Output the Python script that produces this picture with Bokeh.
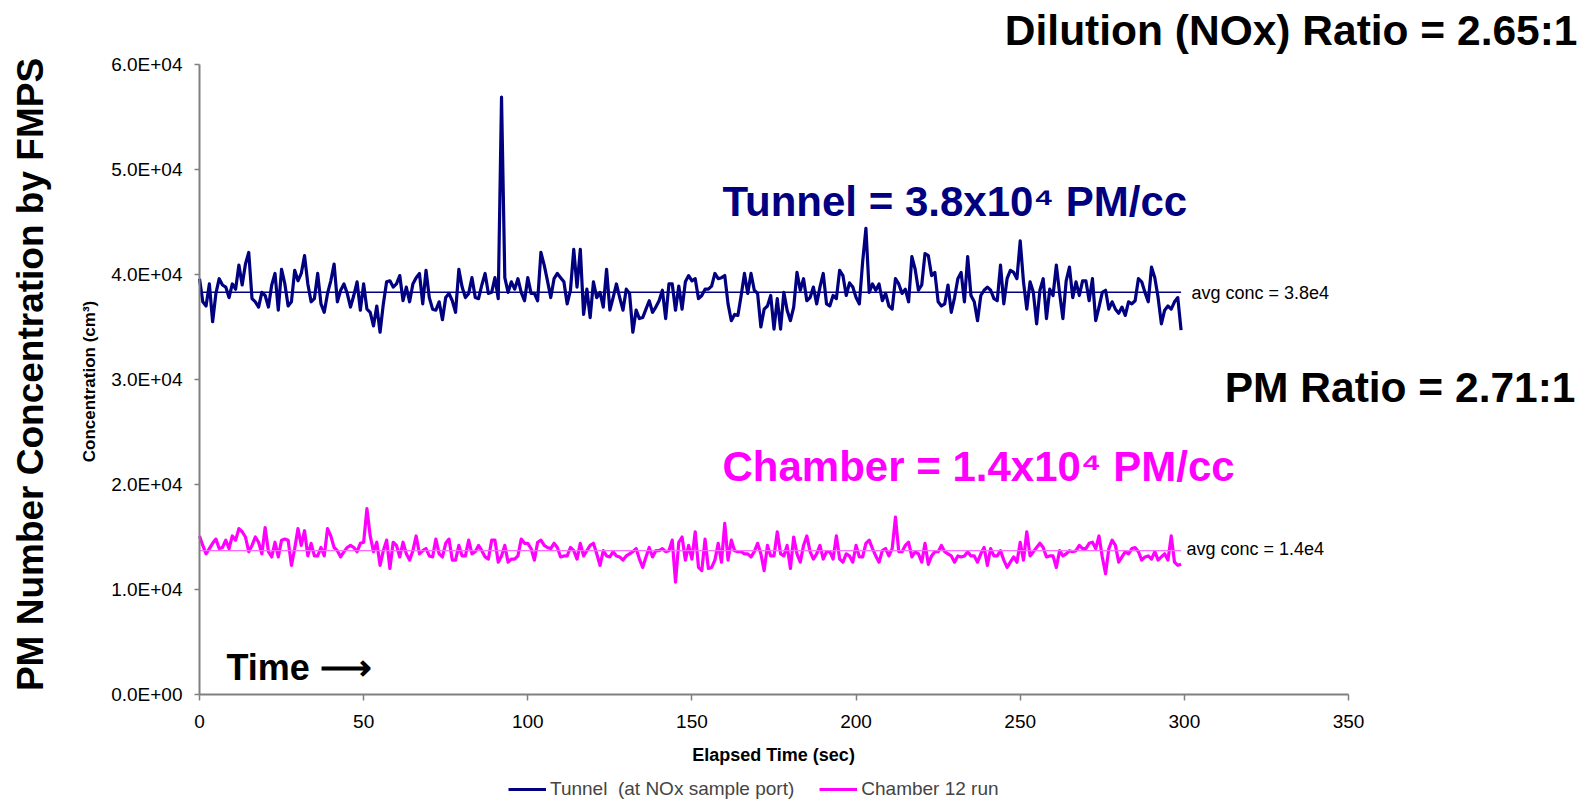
import math
from bokeh.plotting import figure
from bokeh.models import Range1d, FixedTicker, Label, Legend, LegendItem, ColumnDataSource
from bokeh.embed import file_html
from bokeh.resources import INLINE

# ---------------- data ----------------
elapsed_sec = list(range(300))

# Tunnel (at NOx sample port), PM/cc in thousands
tunnel_k = [
    39.6, 37.4, 37.0, 39.1, 35.5, 38.2, 39.6, 39.0, 38.8, 37.8,
    39.1, 38.6, 40.9, 39.0, 41.0, 42.1, 37.7, 37.4, 36.9, 38.3,
    38.0, 36.9, 39.0, 40.1, 36.6, 40.5, 39.1, 37.0, 37.4, 40.4,
    39.4, 40.1, 41.8, 39.1, 37.4, 37.7, 40.1, 37.2, 36.4, 38.2,
    39.4, 41.0, 37.4, 38.5, 39.1, 38.2, 36.9, 38.0, 39.3, 36.6,
    39.1, 36.7, 36.4, 35.1, 37.0, 34.5, 37.2, 39.3, 39.4, 38.8,
    39.1, 39.9, 37.5, 38.8, 37.4, 39.1, 39.7, 40.1, 37.2, 40.4,
    37.8, 36.7, 36.6, 37.4, 35.7, 37.8, 38.2, 37.5, 36.4, 40.5,
    38.8, 37.8, 38.2, 39.7, 37.8, 37.7, 39.0, 40.1, 38.2, 38.3,
    39.7, 37.7, 56.9,
    39.7, 38.3, 39.3, 38.6, 39.6, 38.3, 37.5, 39.7, 38.2, 38.2,
    37.5, 42.1, 40.9, 39.4, 37.8, 39.6, 40.1, 39.7, 39.3, 37.2,
    38.5, 42.4, 38.8, 42.4, 36.2, 38.6, 35.9, 39.3, 37.8, 38.3,
    36.9, 40.5, 36.6, 37.8, 39.1, 37.8, 36.6, 38.6, 38.2, 34.5,
    36.6, 35.8, 35.9, 36.7, 37.5, 36.4, 36.9, 37.5, 38.5, 35.8,
    39.1, 39.1, 36.6, 38.9, 36.7, 39.3, 39.9, 39.4, 39.6, 37.7,
    38.0, 38.6, 38.6, 38.9, 40.1, 39.6, 39.7, 39.9, 37.2, 35.6,
    36.2, 36.1, 38.0, 40.1, 38.2, 40.1, 38.5, 38.2, 35.0, 36.7,
    37.0, 38.0, 34.8, 37.7, 34.8, 38.3, 36.6,
    35.6, 36.9, 40.2, 38.5, 39.6, 37.5, 37.8, 38.8, 37.2, 38.8,
    40.1, 37.2, 37.0, 38.0, 37.7, 40.4, 39.9, 38.0, 39.2, 38.8,
    37.8, 37.2, 41.2, 44.4, 38.3, 39.1, 38.5, 39.1, 37.5, 38.2,
    37.0, 36.7, 39.6, 39.1, 38.2, 38.6, 37.4, 41.7, 40.5, 38.5,
    39.0, 42.0, 41.8, 39.9, 40.2, 37.4, 37.0, 37.2, 39.0, 36.4,
    37.8, 39.6, 40.2, 37.4, 41.7, 38.0, 37.4, 35.6, 38.0, 38.5,
    38.8, 38.5, 37.7, 37.5, 40.9, 37.2, 39.6, 40.4, 40.2, 39.6,
    43.2, 39.3, 36.7, 39.3, 38.3, 35.3, 38.5, 39.6, 35.8, 38.6,
    38.0, 40.9, 38.2, 35.8, 39.4, 40.7, 37.8, 39.3, 38.0, 39.4,
    39.4, 37.5, 39.6, 35.6, 36.9, 38.3, 38.5, 36.7, 37.4, 36.7,
    36.3, 36.9, 36.1, 37.4, 37.2, 37.5, 39.6, 39.3, 38.3, 37.4,
    40.7, 39.7, 37.8, 35.3, 36.6, 37.0, 36.7, 37.4, 37.8, 34.7,
]

# Chamber 12 run, PM/cc in thousands
chamber_k = [
    15.1, 14.2, 13.4, 13.9, 14.4, 14.8, 13.9, 14.0, 14.7, 13.9,
    15.1, 14.7, 15.8, 15.5, 15.0, 13.6, 14.2, 15.0, 14.5, 13.4,
    15.9, 13.6, 13.1, 14.5, 13.1, 14.7, 14.8, 14.7, 12.3, 13.9,
    15.8, 14.2, 15.6, 13.2, 14.4, 13.2, 13.2, 14.0, 13.2, 15.8,
    15.1, 14.0, 13.7, 13.1, 13.6, 14.0, 14.2, 14.0, 13.6, 14.4,
    14.5, 17.7, 15.1, 13.6, 14.5, 12.3, 13.7, 14.7, 12.0, 14.5,
    14.2, 13.1, 14.5, 13.4, 12.8, 13.7, 15.1, 13.4, 13.7, 13.9,
    13.2, 13.1, 14.8, 13.4, 13.1, 14.4, 14.8, 12.8, 12.8, 14.2,
    13.2, 13.2, 14.7, 13.4, 13.6, 14.2, 13.7, 13.1, 12.9, 14.7,
    14.7, 12.6, 13.2, 14.2, 12.6, 12.9, 12.9, 13.2, 14.8, 14.4,
    14.4, 13.9, 12.8, 14.5, 14.7, 14.2, 14.0, 13.9, 14.4, 14.0,
    13.1, 13.2, 13.2, 14.0, 13.7, 12.9, 14.4, 13.2, 13.7, 14.2,
    14.4, 13.4, 12.3, 13.7, 13.2, 13.1, 13.6, 13.2, 13.1, 12.8,
    13.2, 13.4, 13.6, 13.9, 12.9, 12.1, 13.1, 14.0, 13.1, 13.7,
    13.7, 13.9, 13.6, 13.7, 14.7, 10.7, 14.5, 15.0, 12.8, 14.2,
    12.9, 15.5, 12.1, 11.8, 14.8, 12.0, 12.1, 12.8, 14.4, 12.6,
    16.3, 12.8, 14.7, 13.7, 13.6, 13.6, 13.4, 13.4, 13.1, 13.6,
    14.4, 13.4, 11.8, 14.2, 13.2, 13.2, 15.5, 13.4, 13.2, 14.2,
    12.0, 15.0, 13.4, 12.6, 14.2, 15.1, 13.6, 12.9, 13.4, 14.2,
    12.9, 13.6, 13.6, 12.9, 15.1, 12.9, 12.6, 13.4, 13.2, 12.6,
    14.2, 13.1, 13.1, 14.4, 14.7, 13.9, 13.2, 12.6, 13.7, 13.9,
    13.2, 13.9, 16.9, 13.6, 13.6, 14.2, 14.5, 13.1, 13.6, 13.4,
    12.6, 14.4, 12.4, 13.2, 13.6, 13.6, 14.2, 13.6, 13.4, 13.2,
    12.6, 13.2, 13.1, 13.2, 13.6, 13.2, 13.2, 12.6, 13.4, 14.0,
    12.3, 13.9, 13.2, 13.2, 13.7, 12.8, 12.1, 12.6, 13.1, 12.6,
    14.5, 12.8, 15.5, 13.2, 13.6, 14.0, 14.4, 14.0, 13.1, 13.2,
    13.2, 12.1, 13.7, 13.2, 13.4, 13.7, 13.6, 13.7, 14.2, 13.9,
    13.9, 14.4, 14.5, 13.9, 15.1, 13.1, 11.5, 13.9, 14.7, 14.2,
    12.6, 13.1, 13.6, 13.4, 13.9, 14.0, 13.6, 12.8, 13.1, 13.2,
    12.9, 13.6, 12.8, 13.1, 13.4, 12.8, 15.1, 12.6, 12.3, 12.4,
]

tunnel_avg = 38300
chamber_avg = 13700
avg_span_sec = [0, 299]

y_ticks = [0, 10000, 20000, 30000, 40000, 50000, 60000]
y_tick_labels = ["0.0E+00", "1.0E+04", "2.0E+04", "3.0E+04", "4.0E+04", "5.0E+04", "6.0E+04"]
x_ticks = [0, 50, 100, 150, 200, 250, 300, 350]

tunnel_label = "Tunnel  (at NOx sample port)"
chamber_label = "Chamber 12 run"

# ---------------- layout constants ----------------
FONT = "Liberation Sans"
NAVY = "#000080"
MAGENTA = "#FF00FF"
W, H = 1588, 803
AXIS_X = 199                # pixel column of the value axis (t = 0)
AXIS_Y = 694                # pixel row of the time axis (conc = 0)
PX_PER_SEC = 1149 / 350     # 0..350 s spans 1149 px
PX_PER_UNIT_Y = 630 / 60000 # 0..6e4 spans 630 px


def xd(px):
    return (px - AXIS_X) / PX_PER_SEC


def yd(py):
    return (AXIS_Y - py) / PX_PER_UNIT_Y


# the frame covers the whole canvas; the axes sit at fixed data locations
p = figure(width=W, height=H, output_backend="svg", toolbar_location=None,
           x_range=Range1d(xd(0), xd(W)), y_range=Range1d(yd(H), yd(0)),
           min_border=0, min_border_left=0, min_border_right=0,
           min_border_top=0, min_border_bottom=0)
p.outline_line_color = None
p.xgrid.visible = False
p.ygrid.visible = False

src = ColumnDataSource(dict(
    t=elapsed_sec,
    tunnel=[v * 1000 for v in tunnel_k],
    chamber=[v * 1000 for v in chamber_k],
))

r_t = p.line("t", "tunnel", source=src, line_color=NAVY, line_width=3.2, line_join="round")
r_c = p.line("t", "chamber", source=src, line_color=MAGENTA, line_width=3.2, line_join="round")
p.line(avg_span_sec, [tunnel_avg, tunnel_avg], line_color=NAVY, line_width=1.5)
p.line(avg_span_sec, [chamber_avg, chamber_avg], line_color="#FF66FF", line_width=1.2)

for ax in (p.xaxis[0], p.yaxis[0]):
    ax.fixed_location = 0
    ax.axis_line_color = "#808080"
    ax.axis_line_width = 2
    ax.major_tick_line_color = "#808080"
    ax.major_tick_line_width = 1.5
    ax.major_tick_in = 0
    ax.minor_tick_line_color = None
    ax.major_label_text_font = FONT
    ax.major_label_text_font_size = "19px"
    ax.major_label_text_color = "#000000"

p.yaxis.ticker = FixedTicker(ticks=y_ticks)
p.yaxis.bounds = (y_ticks[0], y_ticks[-1])
p.yaxis.major_label_overrides = {t: s for t, s in zip(y_ticks, y_tick_labels)}
p.yaxis.major_tick_out = 5
p.yaxis.major_label_standoff = 12

p.xaxis.ticker = FixedTicker(ticks=x_ticks)
p.xaxis.bounds = (x_ticks[0], x_ticks[-1])
p.xaxis.major_tick_out = 6
p.xaxis.major_label_standoff = 14


def lab(text, px, py, size, color="#000000", align="left", bold=True, angle=0.0):
    p.add_layout(Label(x=xd(px), y=yd(py), text=text, text_font=FONT, text_font_size=size,
                       text_font_style="bold" if bold else "normal",
                       text_color=color, text_align=align, text_baseline="middle",
                       angle=angle))


# axis titles
lab("Concentration (cm³)", 88.5, 381, "17px", align="center", angle=math.pi / 2)
lab("Elapsed Time (sec)", 773, 754.5, "18px", align="center")
lab("PM Number Concentration by FMPS", 30, 374, "37px", align="center", angle=math.pi / 2)

# annotations
lab("Dilution (NOx) Ratio = 2.65:1", 1577, 30, "42.5px", align="right")
lab("PM Ratio = 2.71:1", 1575, 387, "42.5px", align="right")
lab("Tunnel = 3.8x10⁴ PM/cc", 722, 200.5, "42px", color=NAVY)
lab("Chamber = 1.4x10⁴ PM/cc", 722, 466, "42px", color=MAGENTA)
lab("avg conc = 3.8e4", 1191, 292.7, "18px", bold=False)
lab("avg conc = 1.4e4", 1186, 548, "18px", bold=False)
lab("Time ⟶", 226, 667, "36px")

legend = Legend(items=[LegendItem(label=tunnel_label, renderers=[r_t]),
                       LegendItem(label=chamber_label, renderers=[r_c])],
                orientation="horizontal", location=(508, 3),
                padding=0, margin=0, spacing=25,
                glyph_width=38, glyph_height=18, label_height=18, label_standoff=4,
                label_text_font=FONT, label_text_font_size="19px",
                border_line_alpha=0, background_fill_alpha=0)
p.add_layout(legend)

open("out.html", "w").write(file_html(p, INLINE))
